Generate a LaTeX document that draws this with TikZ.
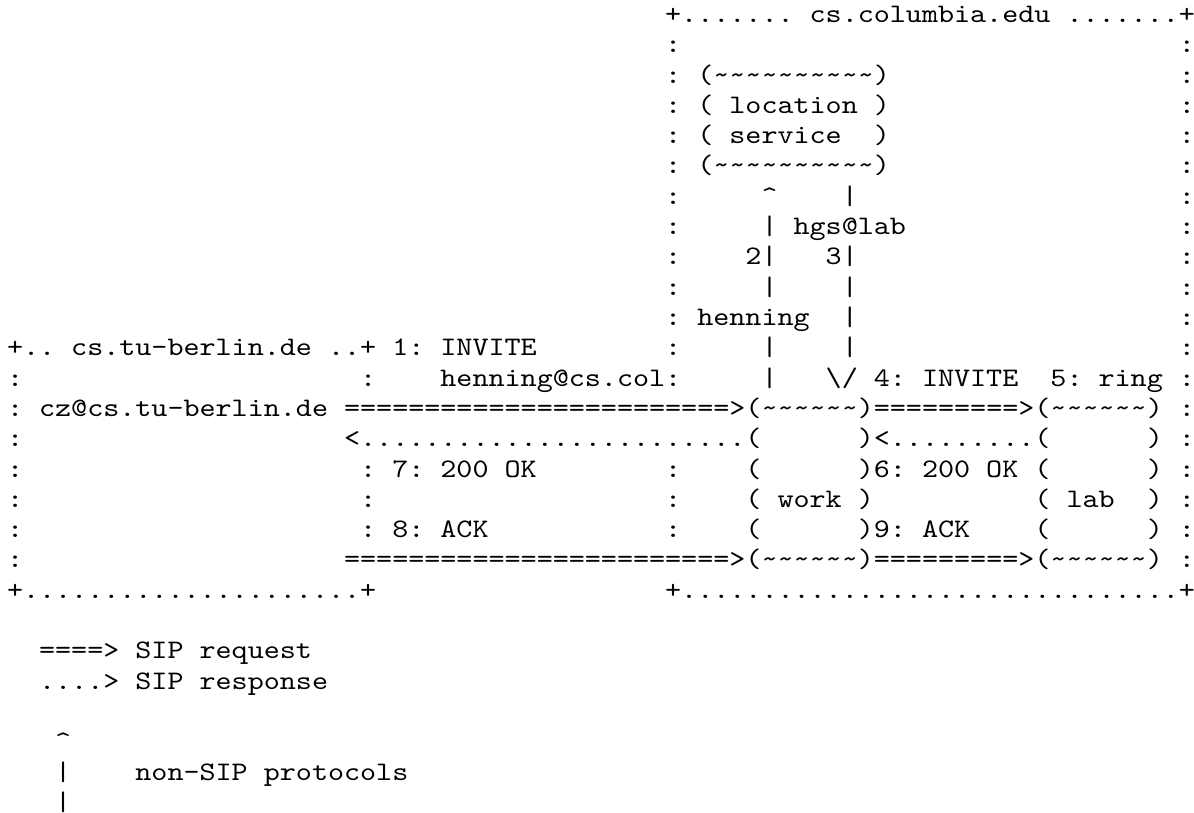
\documentclass[tikz,border=0pt]{standalone}
\usepackage{fontspec}
\setmonofont{lmmono10-regular.otf}[FakeStretch=1.1431]
\newcommand\tld{\textasciitilde}
\newcommand\sixt{\tld\tld\tld\tld\tld\tld}
\newcommand\tent{\tld\tld\tld\tld\tld\tld\tld\tld\tld\tld}
\newcommand\asciitxt{\ttfamily\fontsize{26.75pt}{30.3pt}\selectfont}
\newcommand\mkseg[4]{\node[txt] (#1) at ({7+16.053*#2},{22.5+30.3*(#3-1)}) {#4};}
\begin{document}
\begin{tikzpicture}[x=1pt,y=-1pt,
  txt/.style={inner sep=0pt,outer sep=0pt,anchor=base west,font=\asciitxt,text=black}]
\useasboundingbox (0,0) rectangle (1194,813);
% cs.columbia.edu box, top part
\mkseg{l1}{41}{1}{+....... cs.columbia.edu .......+}
\mkseg{l2a}{41}{2}{:}\mkseg{l2b}{73}{2}{:}
\mkseg{l3a}{41}{3}{:}\mkseg{l3b}{43}{3}{(\tent)}\mkseg{l3c}{73}{3}{:}
\mkseg{l4a}{41}{4}{:}\mkseg{l4b}{43}{4}{( location )}\mkseg{l4c}{73}{4}{:}
\mkseg{l5a}{41}{5}{:}\mkseg{l5b}{43}{5}{( service}\mkseg{l5c}{54}{5}{)}\mkseg{l5d}{73}{5}{:}
\mkseg{l6a}{41}{6}{:}\mkseg{l6b}{43}{6}{(\tent)}\mkseg{l6c}{73}{6}{:}
\mkseg{l7a}{41}{7}{:}\mkseg{l7b}{47}{7}{\textasciicircum}\mkseg{l7c}{52}{7}{|}\mkseg{l7d}{73}{7}{:}
\mkseg{l8a}{41}{8}{:}\mkseg{l8b}{47}{8}{| hgs@lab}\mkseg{l8c}{73}{8}{:}
\mkseg{l9a}{41}{9}{:}\mkseg{l9b}{46}{9}{2|}\mkseg{l9c}{51}{9}{3|}\mkseg{l9d}{73}{9}{:}
\mkseg{l10a}{41}{10}{:}\mkseg{l10b}{47}{10}{|}\mkseg{l10c}{52}{10}{|}\mkseg{l10d}{73}{10}{:}
\mkseg{l11a}{41}{11}{:}\mkseg{l11b}{43}{11}{henning}\mkseg{l11c}{52}{11}{|}\mkseg{l11d}{73}{11}{:}
% both boxes
\mkseg{l12a}{0}{12}{+.. cs.tu-berlin.de ..+ 1: INVITE}\mkseg{l12b}{41}{12}{:}\mkseg{l12c}{47}{12}{|}\mkseg{l12d}{52}{12}{|}\mkseg{l12e}{73}{12}{:}
\mkseg{l13a}{0}{13}{:}\mkseg{l13b}{22}{13}{:}\mkseg{l13c}{27}{13}{henning@cs.col:}\mkseg{l13d}{47}{13}{|}\mkseg{l13e}{51}{13}{\textbackslash/ 4: INVITE}\mkseg{l13f}{65}{13}{5: ring :}
\mkseg{l14}{0}{14}{: cz@cs.tu-berlin.de ========================>(\sixt)=========>(\sixt) :}
\mkseg{l15a}{0}{15}{:}\mkseg{l15b}{21}{15}{<........................(}\mkseg{l15c}{53}{15}{)<.........(}\mkseg{l15d}{71}{15}{) :}
\mkseg{l16a}{0}{16}{:}\mkseg{l16b}{22}{16}{: 7: 200 OK}\mkseg{l16c}{41}{16}{:}\mkseg{l16d}{46}{16}{(}\mkseg{l16e}{53}{16}{)6: 200 OK (}\mkseg{l16f}{71}{16}{) :}
\mkseg{l17a}{0}{17}{:}\mkseg{l17b}{22}{17}{:}\mkseg{l17c}{41}{17}{:}\mkseg{l17d}{46}{17}{( work )}\mkseg{l17e}{64}{17}{( lab}\mkseg{l17f}{71}{17}{) :}
\mkseg{l18a}{0}{18}{:}\mkseg{l18b}{22}{18}{: 8: ACK}\mkseg{l18c}{41}{18}{:}\mkseg{l18d}{46}{18}{(}\mkseg{l18e}{53}{18}{)9: ACK}\mkseg{l18f}{64}{18}{(}\mkseg{l18g}{71}{18}{) :}
\mkseg{l19a}{0}{19}{:}\mkseg{l19b}{21}{19}{========================>(\sixt)=========>(\sixt) :}
\mkseg{l20a}{0}{20}{+.....................+}\mkseg{l20b}{41}{20}{+...............................+}
% legend
\mkseg{l22}{2}{22}{====> SIP request}
\mkseg{l23}{2}{23}{....> SIP response}
\mkseg{l25}{3}{25}{\textasciicircum}
\mkseg{l26a}{3}{26}{|}\mkseg{l26b}{8}{26}{non-SIP protocols}
\mkseg{l27}{3}{27}{|}
\end{tikzpicture}
\end{document}
